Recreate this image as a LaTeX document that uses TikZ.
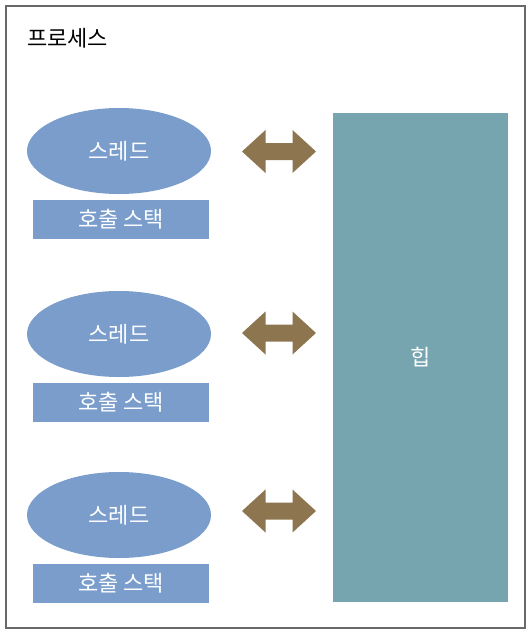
\documentclass[tikz,border=0pt]{standalone}
\usepackage{fontspec}
\setmainfont{Noto Sans CJK KR}
\usetikzlibrary{shapes.geometric}
\definecolor{threadblue}{RGB}{122,157,204}
\definecolor{heapteal}{RGB}{118,165,176}
\definecolor{arrowbrown}{RGB}{141,117,80}
\definecolor{framegray}{RGB}{105,105,105}
\tikzset{
  frame/.style={draw=framegray, line width=1.5pt},
  thread/.style={ellipse, fill=threadblue, minimum width=184pt, minimum height=86pt, inner sep=0pt, text=white, font=\fontsize{22}{26}\selectfont},
  stackbox/.style={rectangle, fill=threadblue, minimum width=176pt, minimum height=39pt, inner sep=0pt, text=white, font=\fontsize{22}{26}\selectfont},
  heapbox/.style={rectangle, fill=heapteal, minimum width=175pt, minimum height=489pt, inner sep=0pt, text=white, font=\fontsize{22}{26}\selectfont},
  title/.style={anchor=west, inner sep=0pt, font=\fontsize{22}{26}\selectfont},
  dblarrow/.pic={\fill[arrowbrown] (-37,0) -- (-13.5,-21.5) -- (-13.5,-8.5) -- (13.5,-8.5) -- (13.5,-21.5) -- (37,0) -- (13.5,21.5) -- (13.5,8.5) -- (-13.5,8.5) -- (-13.5,21.5) -- cycle;}
}
\begin{document}
\begin{tikzpicture}[x=1pt,y=-1pt]
\useasboundingbox (0,0) rectangle (531,633);
\draw[frame] (6,6) rectangle (525,628);
\node[title] (proc) at (27,38) {프로세스};
\node[heapbox] (heap) at (420.5,357.5) {힙};
\node[thread] (t1) at (119,151) {스레드};
\node[stackbox] (s1) at (121,219.5) {호출 스택};
\node[thread] (t2) at (119,334) {스레드};
\node[stackbox] (s2) at (121,402.5) {호출 스택};
\node[thread] (t3) at (119,515) {스레드};
\node[stackbox] (s3) at (121,583.5) {호출 스택};
\pic (a1) at (279,151.5) {dblarrow};
\pic (a2) at (279,333) {dblarrow};
\pic (a3) at (279,511) {dblarrow};
\end{tikzpicture}
\end{document}
